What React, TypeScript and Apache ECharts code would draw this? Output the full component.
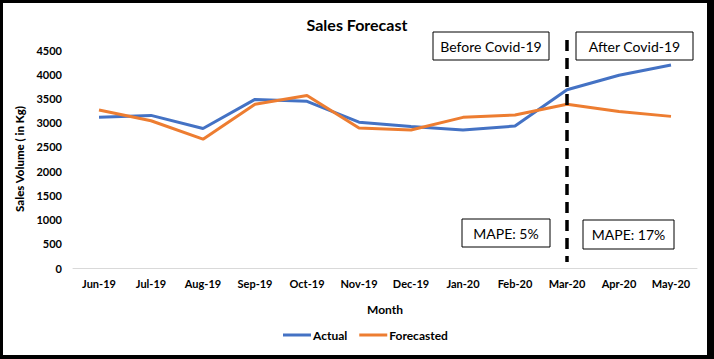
import React, { useEffect, useRef } from "react";
import * as echarts from "echarts";

const months = ["Jun-19", "Jul-19", "Aug-19", "Sep-19", "Oct-19", "Nov-19", "Dec-19", "Jan-20", "Feb-20", "Mar-20", "Apr-20", "May-20"];
const actual = [3110, 3150, 2880, 3480, 3440, 3010, 2920, 2850, 2930, 3680, 3980, 4190];
const forecasted = [3260, 3040, 2660, 3380, 3560, 2890, 2850, 3110, 3160, 3380, 3230, 3130];
const splitMonth = "Mar-20";
const FONT = "Lato, 'Liberation Sans', sans-serif";

export default function App() {
  const ref = useRef<HTMLDivElement>(null);
  useEffect(() => {
    document.body.style.margin = "0";
    const chart = echarts.init(ref.current!, null, { renderer: "svg" });
    const option: any = {
      animation: false,
      backgroundColor: "#000",
      textStyle: { fontFamily: FONT },
      title: {
        text: "Sales Forecast",
        left: "center",
        top: 11,
        textStyle: { fontFamily: FONT, fontSize: 16, fontWeight: "bold", color: "#000" },
      },
      grid: { left: 73, right: 17, top: 50, bottom: 91 },
      legend: {
        bottom: 13,
        left: 278,
        itemWidth: 28,
        itemHeight: 3,
        itemGap: 12,
        icon: "rect",
        textStyle: { fontFamily: FONT, fontSize: 12, fontWeight: "bold", color: "#000", padding: [0, 0, 0, -3] },
        data: ["Actual", "Forecasted"],
      },
      xAxis: {
        type: "category",
        data: months,
        boundaryGap: true,
        axisLine: { lineStyle: { color: "#d9d9d9", width: 1 } },
        axisTick: { show: false },
        axisLabel: { margin: 10, fontFamily: FONT, fontSize: 11, fontWeight: "bold", color: "#000", interval: 0 },
        name: "Month",
        nameLocation: "middle",
        nameGap: 35,
        nameTextStyle: { fontFamily: FONT, fontSize: 12, fontWeight: "bold", color: "#000" },
      },
      yAxis: {
        type: "value",
        min: 0,
        max: 4500,
        interval: 500,
        axisLine: { show: false },
        axisTick: { show: false },
        splitLine: { show: false },
        axisLabel: {
          margin: 11,
          fontFamily: FONT,
          fontSize: 11,
          fontWeight: "bold",
          color: "#000",
          formatter: (v: number) => String(v),
        },
        name: "Sales Volume ( in Kg)",
        nameLocation: "middle",
        nameRotate: 90,
        nameGap: 40,
        nameTextStyle: { fontFamily: FONT, fontSize: 11.5, fontWeight: 900, color: "#000" },
      },
      series: [
        {
          name: "Actual",
          type: "line",
          data: actual,
          symbol: "none",
          color: "#4472C4",
          lineStyle: { width: 3, color: "#4472C4" },
        },
        {
          name: "Forecasted",
          type: "line",
          data: forecasted,
          symbol: "none",
          color: "#ED7D31",
          lineStyle: { width: 3, color: "#ED7D31" },
        },
      ],
    };
    chart.setOption(option);
    const xs = chart.convertToPixel({ xAxisIndex: 0 }, splitMonth) as number;
    const box = (x: number, y: number, w: number, h: number, text: string) => ({
      type: "group",
      children: [
        { type: "rect", shape: { x, y, width: w, height: h }, style: { fill: "#fff", stroke: "#000", lineWidth: 1 } },
        {
          type: "text",
          x: x + w / 2,
          y: y + h / 2,
          style: { text, fontFamily: FONT, fontSize: 14, fill: "#000", align: "center", verticalAlign: "middle" },
        },
      ],
    });
    chart.setOption({
      graphic: [
        { type: "rect", z: -10, silent: true, shape: { x: 3, y: 3, width: 704, height: 352 }, style: { fill: "#fff" } },
        {
          type: "line",
          z: 10,
          shape: { x1: xs, y1: 40, x2: xs, y2: 262 },
          style: { stroke: "#000", lineWidth: 3.5, lineDash: [11, 7] },
        },
        box(433, 32, 116, 28, "Before Covid-19"),
        box(576, 32, 117, 28, "After Covid-19"),
        box(462, 219, 88, 28, "MAPE: 5%"),
        box(583, 220, 91, 29, "MAPE: 17%"),
      ],
    });
    return () => chart.dispose();
  }, []);
  return <div ref={ref} style={{ width: 714, height: 359 }} />;
}
